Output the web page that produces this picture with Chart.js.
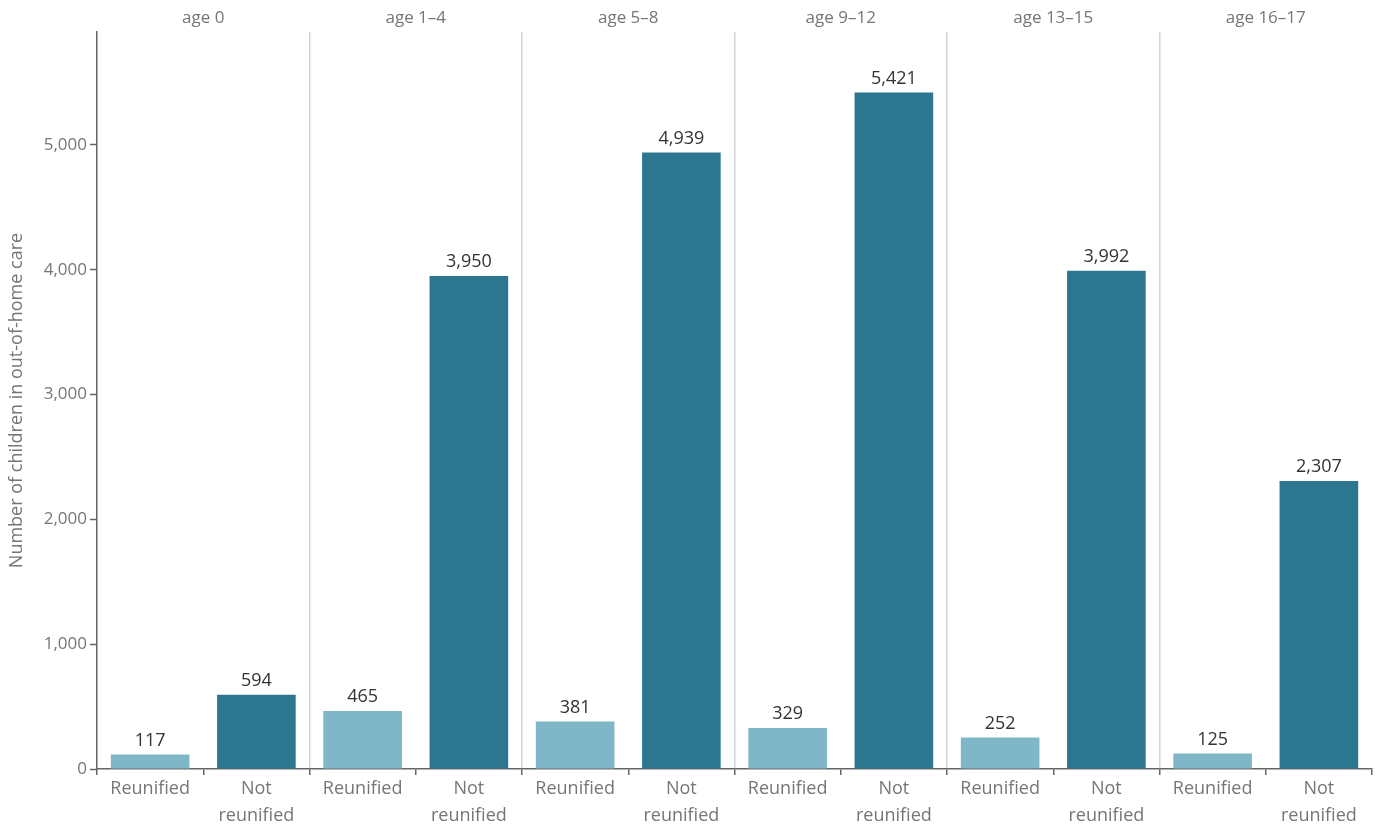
<!DOCTYPE html>
<html>
<head>
<meta charset="utf-8">
<title>Children in out-of-home care by age and reunification</title>
<script src="https://cdn.jsdelivr.net/npm/chart.js@4/dist/chart.umd.min.js"></script>
<style>
  html, body { margin: 0; padding: 0; background: #fff; }
  #wrap { width: 1380px; height: 828px; }
</style>
</head>
<body>
<div id="wrap"><canvas id="reunifyChart" width="1380" height="828"></canvas></div>
<script>
// --- data ---
const ageGroups = ['age 0', 'age 1–4', 'age 5–8', 'age 9–12', 'age 13–15', 'age 16–17'];
const outcomes = ['Reunified', ['Not', 'reunified']];
const reunified = [117, 465, 381, 329, 252, 125];
const notReunified = [594, 3950, 4939, 5421, 3992, 2307];
const yTicks = [0, 1000, 2000, 3000, 4000, 5000];

const LIGHT = '#7fb7c8';
const DARK = '#2c778f';
const GREY_TEXT = '#767676';
const AXIS = '#666666';
const FONT = '"Open Sans", "Noto Sans", sans-serif';

// flatten age group x outcome into one category axis
const labels = [];
const values = [];
const colors = [];
ageGroups.forEach((g, i) => {
  labels.push(outcomes[0]);
  values.push(reunified[i]);
  colors.push(LIGHT);
  labels.push(outcomes[1]);
  values.push(notReunified[i]);
  colors.push(DARK);
});

// --- value labels above bars ---
const valueLabels = {
  id: 'valueLabels',
  afterDatasetsDraw(chart) {
    const ctx = chart.ctx;
    const meta = chart.getDatasetMeta(0);
    ctx.save();
    ctx.font = '18px ' + FONT;
    ctx.fillStyle = '#333333';
    ctx.textAlign = 'center';
    ctx.textBaseline = 'bottom';
    meta.data.forEach((bar, i) => {
      ctx.fillText(values[i].toLocaleString('en-US'), bar.x, bar.y - 5);
    });
    ctx.restore();
  }
};

new Chart(document.getElementById('reunifyChart'), {
  type: 'bar',
  data: {
    labels: labels,
    datasets: [{
      data: values,
      backgroundColor: colors,
      borderWidth: 0,
      barPercentage: 0.74,
      categoryPercentage: 1
    }]
  },
  options: {
    responsive: false,
    animation: false,
    layout: { padding: { left: 6, right: 8, top: 0, bottom: 0 } },
    plugins: {
      legend: { display: false },
      tooltip: { enabled: false }
    },
    scales: {
      x: {
        position: 'bottom',
        offset: true,
        grid: {
          offset: true,
          drawOnChartArea: true,
          color: ctx => (ctx.index % 2 === 0 && ctx.index > 0) ? '#d4d4d4' : 'rgba(0,0,0,0)',
          lineWidth: 1.5,
          drawTicks: true,
          tickLength: 6,
          tickColor: AXIS,
          tickWidth: 1.5
        },
        border: { display: true, color: AXIS, width: 1.5 },
        ticks: {
          color: GREY_TEXT,
          font: { family: FONT, size: 18, lineHeight: 1.5 },
          maxRotation: 0,
          autoSkip: false,
          padding: 0
        },
        afterFit: s => { s.height = 59; }
      },
      x2: {
        type: 'category',
        labels: ageGroups,
        position: 'top',
        offset: true,
        grid: { display: false, drawTicks: false },
        border: { display: false },
        ticks: {
          color: GREY_TEXT,
          font: { family: FONT, size: 17 },
          padding: 4
        },
        afterFit: s => { s.height = 32; }
      },
      y: {
        min: 0,
        max: 5905,
        afterBuildTicks: s => { s.ticks = yTicks.map(v => ({ value: v })); },
        grid: {
          drawOnChartArea: false,
          drawTicks: true,
          tickLength: 7,
          tickColor: AXIS,
          tickWidth: 1.5
        },
        border: { display: true, color: AXIS, width: 1.5 },
        ticks: {
          color: GREY_TEXT,
          font: { family: FONT, size: 17 },
          padding: 3,
          callback: v => v.toLocaleString('en-US')
        },
        title: {
          display: true,
          text: 'Number of children in out-of-home care',
          color: GREY_TEXT,
          font: { family: FONT, size: 18 },
          padding: { top: 0, bottom: 4 }
        },
        afterFit: s => { s.width = 91; }
      }
    }
  },
  plugins: [valueLabels]
});
</script>
</body>
</html>
